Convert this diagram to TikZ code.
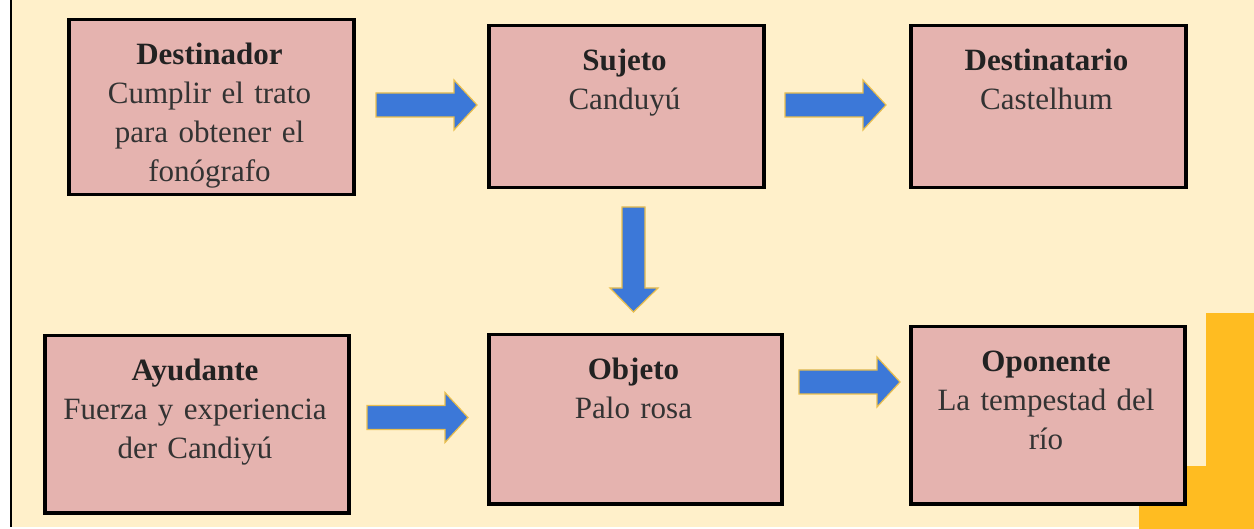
\documentclass[tikz,border=0pt]{standalone}
\usepackage{fontspec}
\setmainfont{Liberation Serif}
\definecolor{bgc}{HTML}{FFF0CA}
\definecolor{boxc}{HTML}{E5B3AF}
\definecolor{yelc}{HTML}{FFBC21}
\definecolor{bluec}{HTML}{3C78D8}
\definecolor{rimc}{HTML}{E9BE4E}
\definecolor{txtc}{HTML}{333333}
\definecolor{boldc}{HTML}{222222}
\begin{document}
\begin{tikzpicture}[x=1pt,y=-1pt,
  box/.style={draw=black, line width=3.5pt, fill=boxc, inner sep=0pt, anchor=north west},
  txt/.style={align=center, text width=300pt, inner sep=0pt, anchor=base, text=txtc,
    font=\fontsize{31}{39}\selectfont},
  blockarrow/.style={fill=bluec, draw=rimc, line width=1.2pt, line join=miter},
  harrow/.pic={\path[blockarrow] (0,-12) -- (78,-12) -- (78,-25) -- (101,0) -- (78,25) -- (78,12) -- (0,12) -- cycle;}
]
\useasboundingbox (0,0) rectangle (1254,529);
\fill[bgc] (0,0) rectangle (1254,529);
\fill[white] (0,0) rectangle (9.5,529);
\fill[white] (0,526.5) rectangle (1254,529);
\fill[black] (9.5,0) rectangle (12,526.5);
\fill[yelc] (1206,313) rectangle (1254,529);
\fill[yelc] (1139,466) rectangle (1254,529);

\node[box, minimum width=285pt, minimum height=175pt] (destinador) at (67,18) {};
\node[box, minimum width=275pt, minimum height=162pt] (sujeto) at (487,24) {};
\node[box, minimum width=275pt, minimum height=162pt] (destinatario) at (909,24) {};
\node[box, minimum width=304pt, minimum height=177pt] (ayudante) at (43,334) {};
\node[box, minimum width=293pt, minimum height=169pt] (objeto) at (487,333) {};
\node[box, minimum width=274pt, minimum height=177pt] (oponente) at (909,325) {};

\node[txt] (tdestinador) at (209.5,65) {{\color{boldc}\bfseries Destinador}\\Cumplir el trato\\para obtener el\\fonógrafo};
\node[txt] (tsujeto) at (624.5,71) {{\color{boldc}\bfseries Sujeto}\\Canduyú};
\node[txt] (tdestinatario) at (1046.5,71) {{\color{boldc}\bfseries Destinatario}\\Castelhum};
\node[txt] (tayudante) at (195,381) {{\color{boldc}\bfseries Ayudante}\\Fuerza y experiencia\\der Candiyú};
\node[txt] (tobjeto) at (633.5,380) {{\color{boldc}\bfseries Objeto}\\Palo rosa};
\node[txt] (toponente) at (1046,372) {{\color{boldc}\bfseries Oponente}\\La tempestad del\\río};

\pic at (376,105) {harrow};
\pic at (785,105) {harrow};
\pic at (367,417.5) {harrow};
\pic at (799,382) {harrow};
\path[blockarrow] (622,207) -- (645,207) -- (645,288) -- (658,288) -- (633.5,312) -- (610,288) -- (622,288) -- cycle;
\end{tikzpicture}
\end{document}
